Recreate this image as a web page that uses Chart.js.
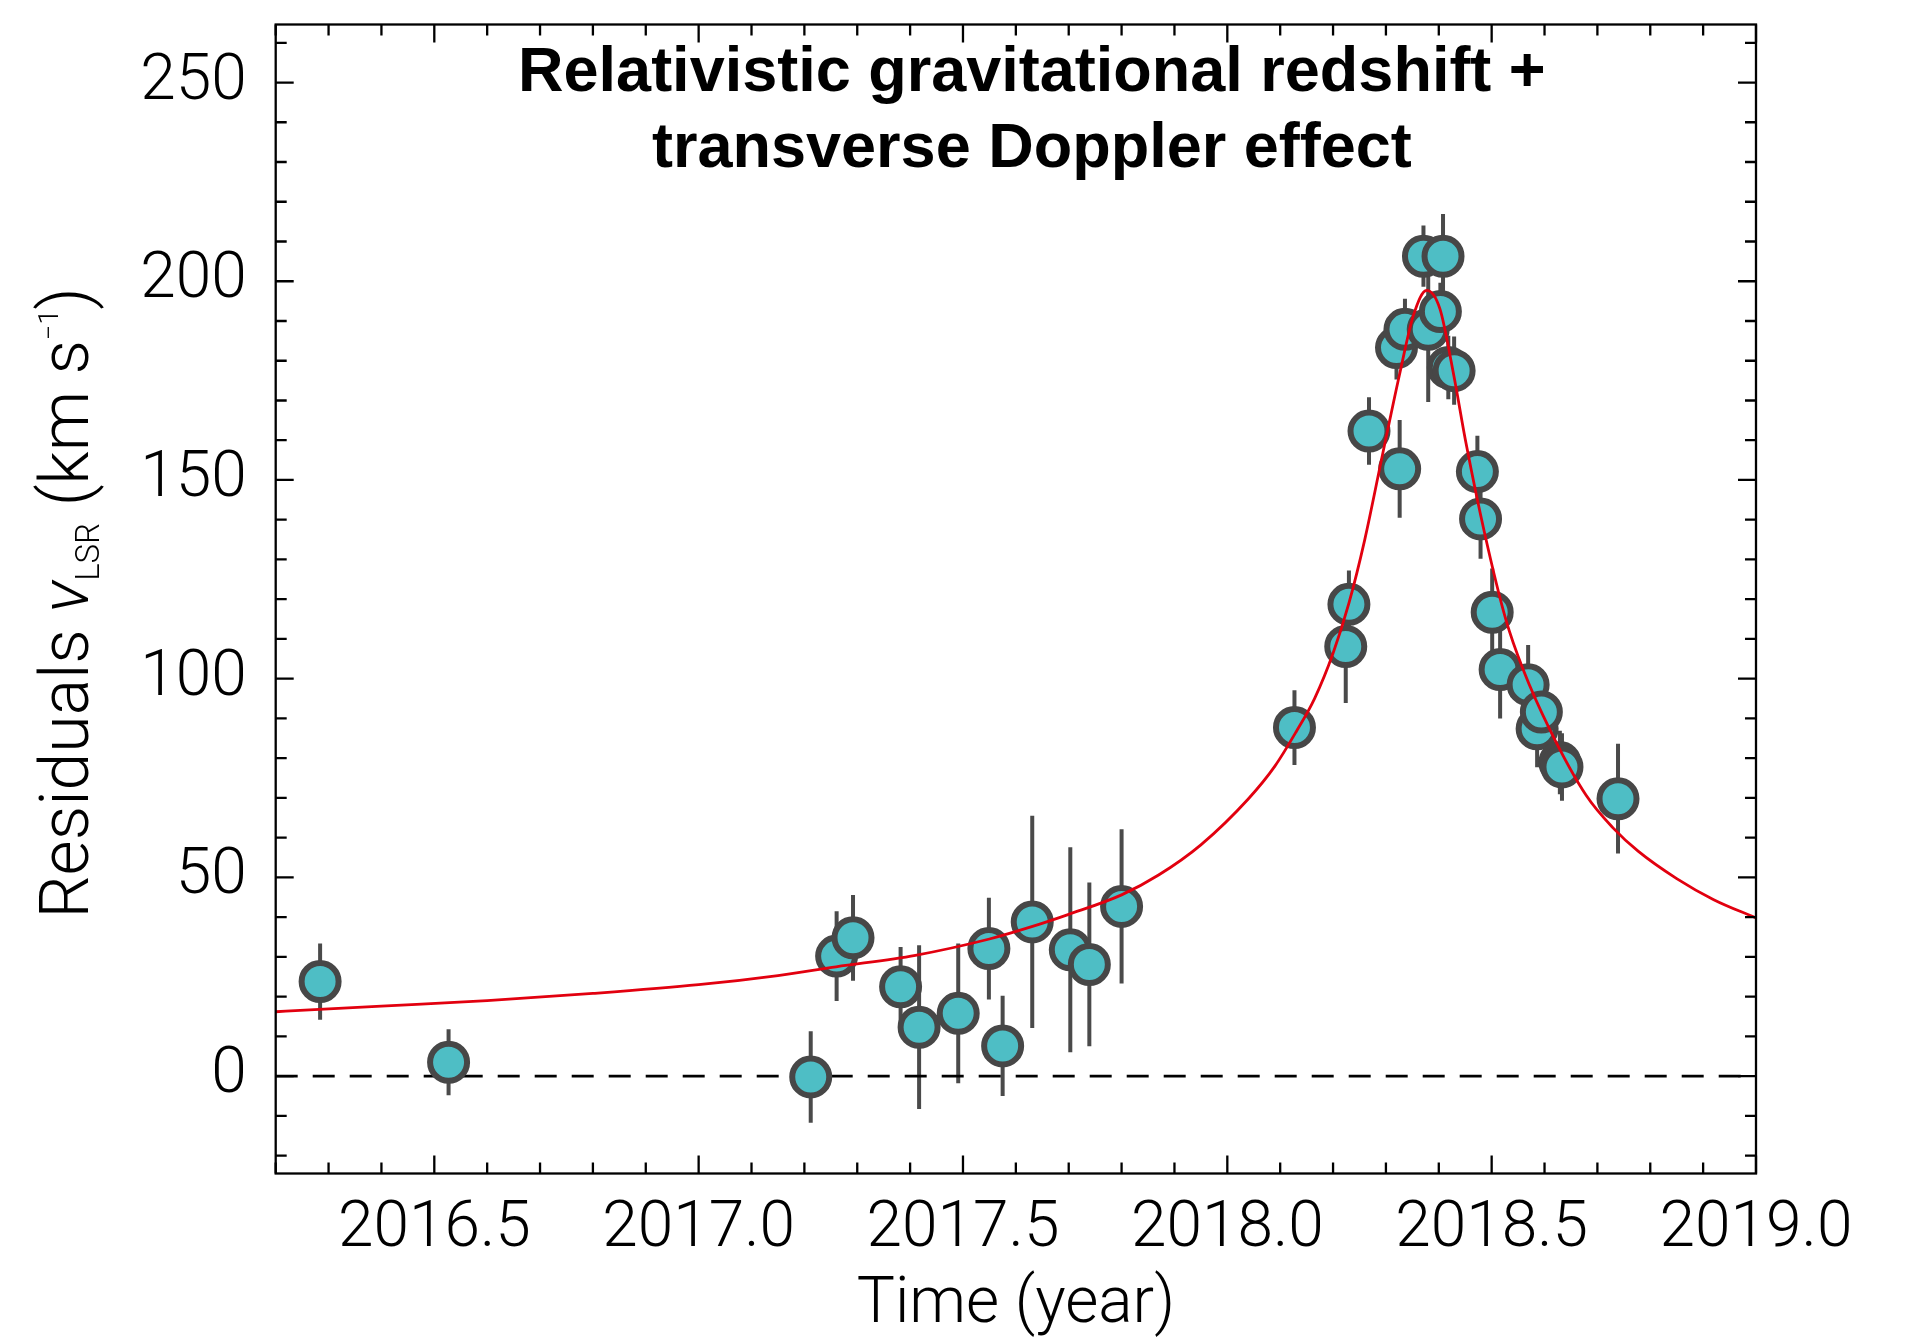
<!DOCTYPE html>
<html>
<head>
<meta charset="utf-8">
<script src="https://cdn.jsdelivr.net/npm/chart.js@4.4.1/dist/chart.umd.min.js"></script>
<style>
  html, body { margin: 0; padding: 0; background: #fff; }
  canvas { display: block; }
</style>
</head>
<body>
<canvas id="grafico" width="1911" height="1341"></canvas>
<script>
// observaciones: epoca (año), residuo v_LSR (km/s) y error
const obsYear = [2016.284, 2016.527, 2017.212, 2017.261, 2017.292, 2017.382, 2017.417, 2017.491, 2017.549, 2017.575,
  2017.631, 2017.703, 2017.739, 2017.800, 2018.127, 2018.224, 2018.230, 2018.268, 2018.320, 2018.326,
  2018.336, 2018.371, 2018.380, 2018.403, 2018.408, 2018.418, 2018.429, 2018.473, 2018.479, 2018.501,
  2018.516, 2018.569, 2018.586, 2018.594, 2018.629, 2018.633, 2018.739];
const obsVel = [23.8, 3.5, -0.2, 30.2, 34.8, 22.5, 12.3, 15.8, 32.1, 7.6,
  38.8, 31.8, 28.1, 42.7, 87.7, 108.1, 118.7, 162.3, 183.3, 152.8,
  187.9, 206.3, 187.9, 192.4, 206.3, 178.3, 177.5, 152.1, 140.2, 116.7,
  102.3, 98.5, 87.4, 91.6, 78.9, 77.8, 69.8];
const obsErr = [9.6, 8.3, 11.5, 11.3, 10.8, 10.0, 20.6, 17.6, 12.8, 12.6,
  26.7, 25.8, 20.6, 19.4, 9.4, 14.2, 8.5, 8.5, 8.0, 12.3,
  7.7, 7.7, 18.3, 7.2, 10.6, 8.0, 8.6, 9.0, 10.0, 11.0,
  12.3, 10.0, 9.7, 9.0, 8.0, 8.5, 13.8];

// curva del modelo (redshift gravitacional + Doppler transversal)
const modelYear = [2016.2, 2016.4, 2016.6, 2016.8, 2017.0, 2017.15, 2017.26, 2017.41, 2017.55, 2017.63,
  2017.70, 2017.80, 2017.87, 2017.95, 2018.04, 2018.09, 2018.13, 2018.165, 2018.20, 2018.23,
  2018.26, 2018.295, 2018.327, 2018.352, 2018.377, 2018.402, 2018.427, 2018.452, 2018.487, 2018.527,
  2018.559, 2018.61, 2018.679, 2018.73, 2018.777, 2018.85, 2018.92, 2019.0];
const modelVel = [16.2, 17.6, 19.0, 20.8, 23.0, 25.3, 27.5, 30.4, 34.5, 37.6,
  40.7, 45.6, 50.6, 58.2, 69.8, 78.0, 86.6, 95.0, 106.4, 119.0,
  135.0, 157.3, 177.3, 191.4, 197.7, 193.1, 177.3, 158.9, 136.4, 114.8,
  102.5, 87.2, 70.6, 62.4, 56.6, 49.7, 44.4, 39.8];

// ejes
const xRange = [2016.2, 2019.0];
const yRange = [-24.5, 264.6];
const xTicks = [2016.5, 2017.0, 2017.5, 2018.0, 2018.5, 2019.0];
const yTicks = [0, 50, 100, 150, 200, 250];
const xMinorStep = 0.1;
const yMinorStep = 10;

const fuente = 'Roboto';

function menores(rango, paso) {
  const out = [];
  for (let k = Math.ceil(rango[0] / paso - 1e-9); k <= Math.floor(rango[1] / paso + 1e-9); k++) out.push(k * paso);
  return out;
}

// barras de error debajo de los puntos
const barrasError = {
  id: 'barrasError',
  beforeDatasetsDraw(chart) {
    const { ctx, chartArea, scales: { x, y } } = chart;
    ctx.save();
    ctx.beginPath();
    ctx.rect(chartArea.left, chartArea.top, chartArea.width, chartArea.height);
    ctx.clip();
    ctx.strokeStyle = '#4a4a4a';
    ctx.lineWidth = 4;
    obsYear.forEach((t, i) => {
      const px = x.getPixelForValue(t);
      ctx.beginPath();
      ctx.moveTo(px, y.getPixelForValue(obsVel[i] - obsErr[i]));
      ctx.lineTo(px, y.getPixelForValue(obsVel[i] + obsErr[i]));
      ctx.stroke();
    });
    ctx.restore();
  }
};

// marco con ticks hacia adentro en los cuatro lados
const marco = {
  id: 'marco',
  afterDraw(chart) {
    const { ctx, chartArea: a, scales: { x, y } } = chart;
    ctx.save();
    ctx.strokeStyle = '#000';
    ctx.lineWidth = 2.3;
    ctx.strokeRect(a.left, a.top, a.width, a.height);
    const tickX = (v, largo) => {
      const px = x.getPixelForValue(v);
      ctx.moveTo(px, a.bottom); ctx.lineTo(px, a.bottom - largo);
      ctx.moveTo(px, a.top); ctx.lineTo(px, a.top + largo);
    };
    const tickY = (v, largo) => {
      const py = y.getPixelForValue(v);
      ctx.moveTo(a.left, py); ctx.lineTo(a.left + largo, py);
      ctx.moveTo(a.right, py); ctx.lineTo(a.right - largo, py);
    };
    ctx.beginPath();
    menores(xRange, xMinorStep).forEach(v => tickX(v, 11));
    menores(yRange, yMinorStep).forEach(v => tickY(v, 11));
    xTicks.forEach(v => tickX(v, 18));
    yTicks.forEach(v => tickY(v, 18));
    ctx.stroke();
    ctx.restore();
  }
};

// titulo dentro del grafico
const tituloInterno = {
  id: 'tituloInterno',
  afterDraw(chart) {
    const { ctx, chartArea: a } = chart;
    const cx = (a.left + a.right) / 2 + 16;
    ctx.save();
    ctx.fillStyle = '#000';
    ctx.font = 'bold 63px "Liberation Sans"';
    ctx.textAlign = 'center';
    ctx.textBaseline = 'alphabetic';
    ctx.fillText('Relativistic gravitational redshift +', cx, 91);
    ctx.fillText('transverse Doppler effect', cx, 167);
    ctx.restore();
  }
};

// titulo del eje y con subindice y superindice
const tituloY = {
  id: 'tituloY',
  afterDraw(chart) {
    const { ctx, chartArea: a } = chart;
    const partes = [
      { t: 'Residuals ', f: `300 68px ${fuente}`, dy: 0 },
      { t: 'v', f: `italic 300 68px ${fuente}`, dy: 0 },
      { t: 'LSR', f: `300 33px ${fuente}`, dy: 11 },
      { t: ' (km s', f: `300 68px ${fuente}`, dy: 0 },
      { t: '\u22121', f: `300 27px ${fuente}`, dy: -30 },
      { t: ')', f: `300 68px ${fuente}`, dy: 0 }
    ];
    ctx.save();
    let total = 0;
    partes.forEach(p => { ctx.font = p.f; p.w = ctx.measureText(p.t).width; total += p.w; });
    ctx.translate(88, (a.top + a.bottom) / 2 + 4);
    ctx.rotate(-Math.PI / 2);
    ctx.fillStyle = '#000';
    ctx.textBaseline = 'alphabetic';
    let pos = -total / 2;
    partes.forEach(p => { ctx.font = p.f; ctx.fillText(p.t, pos, p.dy); pos += p.w; });
    ctx.restore();
  }
};

new Chart(document.getElementById('grafico'), {
  type: 'scatter',
  data: {
    datasets: [
      {
        label: 'modelo',
        data: modelYear.map((t, i) => ({ x: t, y: modelVel[i] })),
        showLine: true,
        borderColor: '#e2000f',
        borderWidth: 2.8,
        pointRadius: 0,
        cubicInterpolationMode: 'monotone',
        order: 0
      },
      {
        label: 'observaciones',
        data: obsYear.map((t, i) => ({ x: t, y: obsVel[i] })),
        backgroundColor: '#4ebec5',
        borderColor: '#474747',
        borderWidth: 6,
        pointRadius: 18.5,
        order: 1
      },
      {
        label: 'cero',
        data: xRange.map(t => ({ x: t, y: 0 })),
        showLine: true,
        borderColor: '#000',
        borderWidth: 2.6,
        borderDash: [22, 15],
        pointRadius: 0,
        order: 2
      }
    ]
  },
  options: {
    responsive: false,
    animation: false,
    events: [],
    layout: { padding: { top: 17, right: 155, left: 0, bottom: 0 } },
    plugins: {
      legend: { display: false },
      tooltip: { enabled: false }
    },
    scales: {
      x: {
        type: 'linear',
        min: xRange[0],
        max: xRange[1],
        afterBuildTicks: s => { s.ticks = xTicks.map(v => ({ value: v })); },
        afterFit: s => { s.height = 167.5; s.paddingLeft = 0; s.paddingRight = 0; },
        grid: { display: false, drawTicks: false },
        border: { display: false },
        ticks: {
          padding: 18,
          color: '#000',
          maxRotation: 0,
          font: { family: fuente, size: 64, weight: 300 },
          callback: v => v.toFixed(1)
        },
        title: {
          display: true,
          text: 'Time (year)',
          color: '#000',
          font: { family: fuente, size: 64, weight: 300 },
          padding: { top: 0, bottom: -3 }
        }
      },
      y: {
        type: 'linear',
        min: yRange[0],
        max: yRange[1],
        afterBuildTicks: s => { s.ticks = yTicks.map(v => ({ value: v })); },
        afterFit: s => { s.width = 275.7; s.paddingTop = 0; s.paddingBottom = 0; },
        grid: { display: false, drawTicks: false },
        border: { display: false },
        ticks: {
          padding: 29,
          color: '#000',
          font: { family: fuente, size: 64, weight: 300 },
          callback: v => String(v)
        }
      }
    }
  },
  plugins: [barrasError, marco, tituloInterno, tituloY]
});
</script>
</body>
</html>
